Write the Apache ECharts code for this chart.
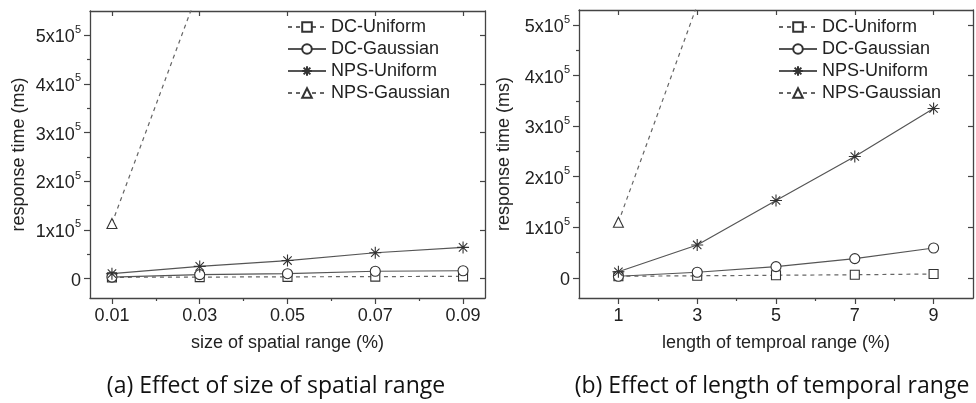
<!DOCTYPE html>
<html>
<head>
<meta charset="utf-8">
<script src="https://cdn.jsdelivr.net/npm/echarts@6/dist/echarts.min.js"></script>
<style>html,body{margin:0;padding:0;background:#fff;}#c{width:976px;height:403px;}</style>
</head>
<body>
<div id="c"></div>
<script>
// ---- data ----
var seriesNames = ['DC-Uniform', 'DC-Gaussian', 'NPS-Uniform', 'NPS-Gaussian'];
var xA = [0.01, 0.03, 0.05, 0.07, 0.09];
var xAMinor = [0.02, 0.04, 0.06, 0.08];
var aDCU = [2500, 3000, 3500, 4000, 4500];
var aDCG = [3000, 8000, 10000, 15000, 16000];
var aNPSU = [10000, 25000, 37000, 53000, 64000];
var aNPSG = [113000, 600000, 1200000, 1900000, 2600000];
var xB = [1, 3, 5, 7, 9];
var xBMinor = [2, 4, 6, 8];
var bDCU = [3000, 4000, 5000, 6000, 7500];
var bDCG = [3000, 11000, 22000, 38000, 59000];
var bNPSU = [12000, 65000, 153000, 240000, 335000];
var bNPSG = [110000, 540000, 1000000, 1500000, 2000000];
var yTicks = [0, 100000, 200000, 300000, 400000, 500000];
var yMinor = [50000, 150000, 250000, 350000, 450000];
var xNameA = 'size of spatial range (%)';
var xNameB = 'length of temproal range (%)';
var yName = 'response time (ms)';
var captionA = '(a) Effect of size of spatial range';
var captionB = '(b) Effect of length of temporal range';

var AX = '#444';
var LN = '#555';
var TXT = '#222';
var FONT = 'Liberation Sans';
var FS = 18;
var star = 'path://M5,0 L5,10 M0,5 L10,5 M1.5,1.5 L8.5,8.5 M8.5,1.5 L1.5,8.5';

function pairs(xs, ys) { return xs.map(function (x, i) { return [x, ys[i]]; }); }

var gridA = { left: 90, right: 491, top: 11, bottom: 105 };
var gridB = { left: 579, right: 3, top: 10, bottom: 105 };

function yLabelFmt(v) {
  if (v === 0) return '{a|0}';
  return '{a|' + Math.round(v / 100000) + 'x10}{b|5}';
}

function mainX(gi, min, max, ticks, name, fmt) {
  return {
    type: 'value', gridIndex: gi, min: min, max: max, position: 'bottom',
    axisLine: { show: true, onZero: false, lineStyle: { color: AX, width: 1.3 } },
    axisTick: { show: true, inside: false, length: 6, customValues: ticks, lineStyle: { color: AX, width: 1.2 } },
    axisLabel: { show: true, customValues: ticks, formatter: fmt, margin: 9, color: TXT, fontSize: FS, fontFamily: FONT },
    splitLine: { show: false },
    name: name, nameLocation: 'middle', nameGap: 36,
    nameTextStyle: { color: TXT, fontSize: FS, fontFamily: FONT }
  };
}
function minorX(gi, min, max, ticks) {
  return {
    type: 'value', gridIndex: gi, min: min, max: max, position: 'bottom',
    axisLine: { show: false, onZero: false },
    axisTick: { show: true, inside: false, length: 3, customValues: ticks, lineStyle: { color: AX, width: 1.2 } },
    axisLabel: { show: false }, splitLine: { show: false }
  };
}
function topX(gi, min, max, ticks) {
  return {
    type: 'value', gridIndex: gi, min: min, max: max, position: 'top',
    axisLine: { show: true, onZero: false, lineStyle: { color: AX, width: 1.3 } },
    axisTick: { show: true, inside: true, length: 5, customValues: ticks, lineStyle: { color: AX, width: 1.2 } },
    axisLabel: { show: false }, splitLine: { show: false }
  };
}
function mainY(gi, max, gap) {
  return {
    type: 'value', gridIndex: gi, min: -40000, max: max, position: 'left',
    axisLine: { show: true, onZero: false, lineStyle: { color: AX, width: 1.3 } },
    axisTick: { show: true, inside: false, length: 6, customValues: yTicks, lineStyle: { color: AX, width: 1.2 } },
    axisLabel: {
      show: true, customValues: yTicks, formatter: yLabelFmt, margin: 9,
      rich: {
        a: { color: TXT, fontSize: FS, fontFamily: FONT, lineHeight: 22, verticalAlign: 'bottom' },
        b: { color: TXT, fontSize: 11, fontFamily: FONT, lineHeight: 22, verticalAlign: 'top' }
      }
    },
    splitLine: { show: false },
    name: yName, nameLocation: 'middle', nameGap: gap,
    nameTextStyle: { color: TXT, fontSize: FS, fontFamily: FONT }
  };
}
function minorY(gi, max) {
  return {
    type: 'value', gridIndex: gi, min: -40000, max: max, position: 'left',
    axisLine: { show: false, onZero: false },
    axisTick: { show: true, inside: false, length: 3, customValues: yMinor, lineStyle: { color: AX, width: 1.2 } },
    axisLabel: { show: false }, splitLine: { show: false }
  };
}
function rightY(gi, max) {
  return {
    type: 'value', gridIndex: gi, min: -40000, max: max, position: 'right',
    axisLine: { show: true, onZero: false, lineStyle: { color: AX, width: 1.3 } },
    axisTick: { show: true, inside: true, length: 5, customValues: yTicks, lineStyle: { color: AX, width: 1.2 } },
    axisLabel: { show: false }, splitLine: { show: false }
  };
}

var styleCfg = {
  'DC-Uniform': { symbol: 'rect', dash: [4, 4], color: '#666', size: 9 },
  'DC-Gaussian': { symbol: 'circle', dash: 'solid', color: LN, size: 10 },
  'NPS-Uniform': { symbol: star, dash: 'solid', color: LN, size: 12 },
  'NPS-Gaussian': { symbol: 'triangle', dash: [4, 4], color: '#666', size: 10 }
};

function mkSeries(name, data, xi, yi) {
  var cfg = styleCfg[name];
  return {
    name: name, type: 'line', xAxisIndex: xi, yAxisIndex: yi, data: data,
    symbol: cfg.symbol, symbolSize: cfg.size, showAllSymbol: true, clip: true,
    lineStyle: { color: cfg.color, width: 1.2, type: cfg.dash },
    itemStyle: { color: '#fff', borderColor: '#333', borderWidth: 1.1 },
    emphasis: { disabled: true }, animation: false, z: 3
  };
}

function legendAt(left) {
  return {
    left: left, top: 13, orient: 'vertical', itemWidth: 38, itemHeight: 12, itemGap: 4,
    data: seriesNames,
    textStyle: { color: TXT, fontSize: FS, fontFamily: FONT, lineHeight: 18 },
    selectedMode: false
  };
}

var fmtA = function (v) { return v.toFixed(2); };
var fmtB = function (v) { return String(v); };

var option = {
  backgroundColor: '#fff',
  animation: false,
  grid: [gridA, gridA, gridB, gridB],
  xAxis: [
    mainX(0, 0.005, 0.095, xA, xNameA, fmtA),
    minorX(1, 0.005, 0.095, xAMinor),
    topX(1, 0.005, 0.095, xA),
    mainX(2, 0, 10, xB, xNameB, fmtB),
    minorX(3, 0, 10, xBMinor),
    topX(3, 0, 10, xB)
  ],
  yAxis: [
    mainY(0, 550000, 62),
    minorY(1, 550000),
    rightY(1, 550000),
    mainY(2, 530000, 66),
    minorY(3, 530000),
    rightY(3, 530000)
  ],
  legend: [legendAt(282), legendAt(773)],
  series: [
    mkSeries('DC-Uniform', pairs(xA, aDCU), 0, 0),
    mkSeries('DC-Gaussian', pairs(xA, aDCG), 0, 0),
    mkSeries('NPS-Uniform', pairs(xA, aNPSU), 0, 0),
    mkSeries('NPS-Gaussian', pairs(xA, aNPSG), 0, 0),
    mkSeries('DC-Uniform', pairs(xB, bDCU), 3, 3),
    mkSeries('DC-Gaussian', pairs(xB, bDCG), 3, 3),
    mkSeries('NPS-Uniform', pairs(xB, bNPSU), 3, 3),
    mkSeries('NPS-Gaussian', pairs(xB, bNPSG), 3, 3)
  ],
  graphic: [
    { type: 'text', x: 276, y: 386, style: { text: captionA, fill: '#111', font: '23px "Open Sans", sans-serif', textAlign: 'center', textVerticalAlign: 'middle' } },
    { type: 'text', x: 772, y: 386, style: { text: captionB, fill: '#111', font: '23px "Open Sans", sans-serif', textAlign: 'center', textVerticalAlign: 'middle' } }
  ]
};

var chart = echarts.init(document.getElementById('c'), null, { renderer: 'canvas' });
chart.setOption(option);
</script>
</body>
</html>
